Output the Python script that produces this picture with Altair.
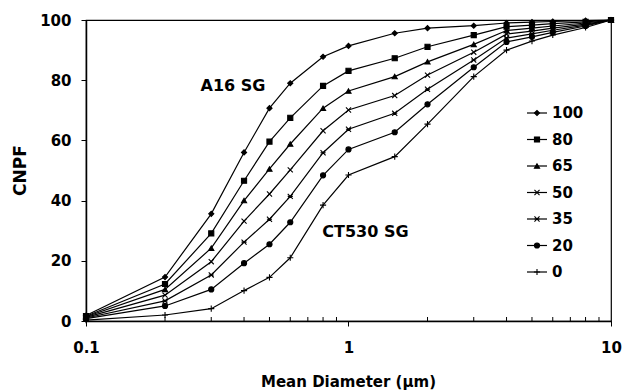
import altair as alt
import pandas as pd

# ---- data ----
diam = [0.1, 0.2, 0.3, 0.4, 0.5, 0.6, 0.8, 1, 1.5, 2, 3, 4, 5, 6, 8, 10]
series_names = ["100", "80", "65", "50", "35", "20", "0"]
s100 = [1.8, 14.6, 35.6, 56.0, 70.7, 79.0, 87.8, 91.4, 95.6, 97.3, 98.1, 99.0, 99.3, 99.5, 99.8, 100]
s80 = [1.6, 12.3, 29.1, 46.6, 59.6, 67.5, 78.1, 83.1, 87.3, 91.1, 95.0, 97.8, 98.3, 98.8, 99.4, 100]
s65 = [1.4, 10.5, 24.2, 40.0, 50.5, 58.8, 70.7, 76.4, 81.2, 86.1, 91.9, 96.5, 97.3, 98.0, 99.0, 100]
s50 = [1.2, 8.6, 19.7, 33.2, 42.2, 50.2, 63.2, 70.1, 74.9, 81.7, 89.3, 95.3, 96.3, 97.3, 98.6, 100]
s35 = [1.0, 6.7, 15.3, 26.2, 33.8, 41.4, 55.9, 63.7, 69.0, 77.0, 86.7, 94.0, 95.4, 96.6, 98.3, 100]
s20 = [0.8, 5.0, 10.5, 19.2, 25.5, 32.8, 48.4, 57.0, 62.7, 72.0, 84.3, 92.7, 94.4, 95.9, 98.0, 100]
s0 = [0.3, 2.0, 4.1, 10.1, 14.5, 21.0, 38.5, 48.5, 54.6, 65.4, 81.2, 90.0, 93.0, 95.0, 97.5, 100]
all_series = [s100, s80, s65, s50, s35, s20, s0]

minor_ticks = [0.2, 0.3, 0.4, 0.5, 0.6, 0.7, 0.8, 0.9, 2, 3, 4, 5, 6, 7, 8, 9]
annot_text = ["A16 SG", "CT530 SG"]
annot_x = [0.363, 1.16]
annot_y = [78.0, 29.6]

# ---- tables ----
rows = []
for name, vals in zip(series_names, all_series):
    for d, v in zip(diam, vals):
        rows.append({"series": name, "diam": d, "cnpf": v})
df = pd.DataFrame(rows)
leg = pd.DataFrame({"series": series_names, "idx": list(range(len(series_names)))})
ann = pd.DataFrame({"text": annot_text, "x": annot_x, "y": annot_y})
minor = pd.DataFrame({"m": minor_ticks})

FONT = "DejaVu Sans"
shape_range = [
    "diamond",
    "square",
    "triangle-up",
    "M-1,-1L1,1M-1,1L1,-1",
    "M-1,-1L1,1M-1,1L1,-1M-1,0L1,0",
    "circle",
    "M-1.2,0L1.2,0M0,-1.2L0,1.2",
]
shape_scale = alt.Scale(domain=series_names, range=shape_range)

xscale = alt.Scale(type="log", domain=[0.1, 10])
yscale = alt.Scale(domain=[0, 100])

x_enc = alt.X(
    "diam:Q", scale=xscale,
    axis=alt.Axis(
        title="Mean Diameter (\u03bcm)", values=[0.1, 1, 10], format="~g",
        grid=False, tickSize=5, labelPadding=14, domainColor="black",
        tickColor="black", labelFont=FONT, labelFontWeight="bold",
        labelFontSize=15, labelColor="black", titleFont=FONT,
        titleFontWeight="bold", titleFontSize=15, titleColor="black",
        titleX=262, titleY=60, titleBaseline="middle", labelFlush=False,
        domainWidth=1.5,
    ),
)
y_enc = alt.Y(
    "cnpf:Q", scale=yscale,
    axis=alt.Axis(
        title="CNPF", values=[0, 20, 40, 60, 80, 100], grid=False,
        tickSize=5, labelPadding=10, domainColor="black", tickColor="black",
        labelFont=FONT, labelFontWeight="bold", labelFontSize=15,
        labelColor="black", titleFont=FONT, titleFontWeight="bold",
        titleFontSize=17, titleColor="black", titleX=-66, titleY=150,
        titleBaseline="middle", titleAlign="center", domainWidth=1.5,
    ),
)

base = alt.Chart(df)
lines = base.mark_line(color="black", strokeWidth=1.2).encode(
    x=x_enc, y=y_enc, detail="series:N"
)
points = base.mark_point(filled=True, fill="black", stroke="black", strokeWidth=1.1, size=26, opacity=1).encode(
    x="diam:Q", y="cnpf:Q",
    shape=alt.Shape("series:N", scale=shape_scale, legend=None),
)

minor_layer = alt.Chart(minor).mark_rule(color="black", strokeWidth=1).encode(
    x=alt.X("m:Q", scale=xscale), y=alt.value(301), y2=alt.value(297)
)

ann_layer = alt.Chart(ann).mark_text(
    font=FONT, fontWeight="bold", fontSize=16, color="black", align="center", baseline="middle"
).encode(x=alt.X("x:Q", scale=xscale), y=alt.Y("y:Q", scale=yscale), text="text:N")

# legend drawn inside the plot (pixel positions relative to the plot area)
LEG_Y0, LEG_DY = 93, 26.5
leg_base = alt.Chart(leg).transform_calculate(ly=f"{LEG_Y0} + datum.idx * {LEG_DY}")
leg_line = leg_base.mark_rule(color="black", strokeWidth=1.2).encode(
    x=alt.value(441), x2=alt.value(461), y=alt.Y("ly:Q", scale=None)
)
leg_pt = leg_base.mark_point(filled=True, fill="black", stroke="black", strokeWidth=1.1, size=26, opacity=1).encode(
    x=alt.value(451), y=alt.Y("ly:Q", scale=None),
    shape=alt.Shape("series:N", scale=shape_scale, legend=None),
)
leg_txt = leg_base.mark_text(
    font=FONT, fontWeight="bold", fontSize=15, color="black", align="left", baseline="middle"
).encode(x=alt.value(466), y=alt.Y("ly:Q", scale=None), text="series:N")

chart = alt.layer(lines, points, minor_layer, ann_layer, leg_line, leg_pt, leg_txt).properties(
    width=525, height=301, autosize="none",
    padding={"left": 86, "top": 20, "right": 12, "bottom": 70},
    background="white",
).configure_view(stroke="black", strokeWidth=1.2)

chart.save("out.html", embed_options={"renderer": "svg", "actions": False})
